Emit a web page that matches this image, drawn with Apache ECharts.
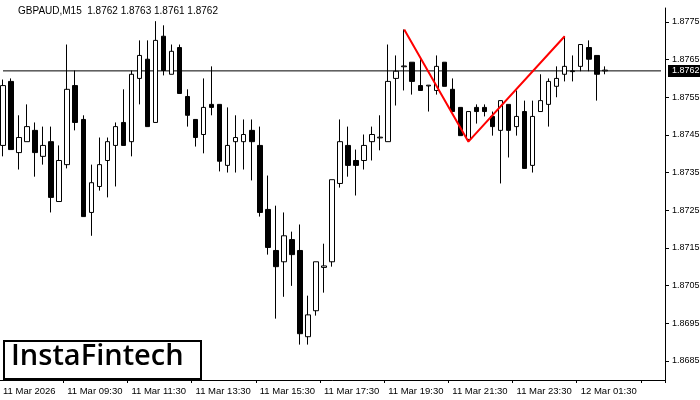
<!DOCTYPE html>
<html><head><meta charset="utf-8">
<script src="https://cdn.jsdelivr.net/npm/echarts@6/dist/echarts.min.js"></script>
<style>html,body{margin:0;padding:0;background:#fff}#c{width:700px;height:400px}</style>
</head><body><div id="c"></div>
<script>
// [open, close, low, high]
const ohlc = [
[1.87422,1.87581,1.87393,1.87597],[1.87592,1.87411,1.87411,1.87600],[1.87403,1.87443,1.87358,1.87502],
[1.87432,1.87472,1.87432,1.87531],[1.87462,1.87403,1.87339,1.87483],[1.87393,1.87422,1.87371,1.87472],
[1.87432,1.87284,1.87244,1.87472],[1.87273,1.87382,1.87273,1.87422],[1.87371,1.87571,1.87361,1.87690],
[1.87581,1.87483,1.87462,1.87621],[1.87491,1.87233,1.87233,1.87502],[1.87244,1.87323,1.87182,1.87371],
[1.87313,1.87371,1.87302,1.87443],[1.87382,1.87432,1.87284,1.87443],[1.87422,1.87472,1.87313,1.87483],
[1.87483,1.87422,1.87422,1.87571],[1.87432,1.87611,1.87393,1.87621],[1.87600,1.87661,1.87531,1.87701],
[1.87651,1.87472,1.87472,1.87701],[1.87483,1.87701,1.87483,1.87752],[1.87712,1.87621,1.87608,1.87741],
[1.87611,1.87672,1.87611,1.87690],[1.87682,1.87560,1.87560,1.87690],[1.87552,1.87502,1.87472,1.87571],
[1.87491,1.87443,1.87419,1.87491],[1.87451,1.87523,1.87401,1.87600],[1.87531,1.87523,1.87502,1.87632],
[1.87531,1.87380,1.87353,1.87531],[1.87369,1.87422,1.87350,1.87523],[1.87432,1.87443,1.87350,1.87502],
[1.87432,1.87451,1.87358,1.87491],[1.87462,1.87432,1.87329,1.87491],[1.87422,1.87244,1.87233,1.87472],
[1.87252,1.87151,1.87132,1.87342],[1.87143,1.87100,1.86962,1.87262],[1.87113,1.87182,1.87020,1.87244],
[1.87172,1.87132,1.87049,1.87193],[1.87143,1.86922,1.86893,1.87212],[1.86914,1.86972,1.86893,1.87023],
[1.86983,1.87113,1.86970,1.87113],[1.87098,1.87102,1.87031,1.87161],[1.87113,1.87331,1.87100,1.87331],
[1.87321,1.87432,1.87310,1.87491],[1.87422,1.87369,1.87339,1.87472],[1.87382,1.87369,1.87289,1.87411],
[1.87382,1.87422,1.87358,1.87451],[1.87432,1.87451,1.87382,1.87472],[1.87442,1.87444,1.87409,1.87502],
[1.87432,1.87592,1.87432,1.87690],[1.87600,1.87619,1.87528,1.87661],[1.87631,1.87633,1.87568,1.87730],
[1.87643,1.87592,1.87557,1.87643],[1.87581,1.87568,1.87568,1.87651],[1.87580,1.87582,1.87512,1.87582],
[1.87568,1.87632,1.87557,1.87661],[1.87643,1.87579,1.87579,1.87643],[1.87571,1.87512,1.87512,1.87600],
[1.87523,1.87448,1.87448,1.87523],[1.87438,1.87512,1.87432,1.87512],[1.87523,1.87512,1.87480,1.87531],
[1.87523,1.87512,1.87499,1.87531],[1.87499,1.87472,1.87448,1.87512],[1.87462,1.87541,1.87321,1.87541],
[1.87531,1.87462,1.87390,1.87531],[1.87472,1.87499,1.87448,1.87568],[1.87512,1.87361,1.87361,1.87541],
[1.87369,1.87499,1.87350,1.87541],[1.87512,1.87541,1.87512,1.87611],[1.87531,1.87592,1.87472,1.87600],
[1.87579,1.87600,1.87550,1.87632],[1.87611,1.87632,1.87592,1.87712],[1.87618,1.87620,1.87592,1.87661],
[1.87632,1.87690,1.87619,1.87690],[1.87682,1.87651,1.87619,1.87701],[1.87661,1.87611,1.87541,1.87661],
[1.87620,1.87622,1.87611,1.87632]
];
const totalSlots = 83;
const timeLabels = {0:'11 Mar 2026',8:'11 Mar 09:30',16:'11 Mar 11:30',24:'11 Mar 13:30',32:'11 Mar 15:30',
  40:'11 Mar 17:30',48:'11 Mar 19:30',56:'11 Mar 21:30',64:'11 Mar 23:30',72:'12 Mar 01:30'};
const yTicks = [1.8685,1.8695,1.8705,1.8715,1.8725,1.8735,1.8745,1.8755,1.8765,1.8775];
const patternPts = [[50,1.87730],[58,1.87432],[70,1.87712]];
const lastPrice = 1.8762;
const titleText = 'GBPAUD,M15  1.8762 1.8763 1.8761 1.8762';

const cats = Array.from({length: totalSlots}, (_, i) => String(i));
const font = 'Liberation Sans';
const yMin = 1.86799, yMax = 1.87787;
const chart = echarts.init(document.getElementById('c'));
chart.setOption({
  animation: false,
  backgroundColor: '#fff',
  grid: {left: -1, width: 666, top: 8, bottom: 20, containLabel: false, outerBoundsMode: 'none'},
  xAxis: {type: 'category', data: cats, boundaryGap: true,
    axisLine: {lineStyle: {color: '#000'}},
    axisTick: {show: true, length: 3, lineStyle: {color: '#000'}, interval: 7},
    axisLabel: {interval: 7, formatter: (v) => timeLabels[+v] || '',
      hideOverlap: false, align: 'left', color: '#000', fontSize: 9.5, fontFamily: font, margin: 6},
    splitLine: {show: false}},
  yAxis: [
    {type: 'value', position: 'right', min: yMin, max: yMax, scale: true,
      axisLine: {show: true, lineStyle: {color: '#000'}},
      axisTick: {show: true, length: 4, customValues: yTicks, lineStyle: {color: '#000'}},
      axisLabel: {customValues: yTicks, formatter: (v) => v.toFixed(4), color: '#000', fontSize: 9, fontFamily: font, margin: 7},
      splitLine: {show: false}},
    {type: 'value', position: 'right', min: yMin, max: yMax, scale: true,
      axisLine: {show: false}, axisTick: {show: false}, splitLine: {show: false},
      axisLabel: {customValues: [lastPrice], formatter: (v) => v.toFixed(4), color: '#fff', backgroundColor: '#000',
        padding: [2, 3, 1, 4], fontSize: 9, fontFamily: font, margin: 3}}
  ],
  series: [
    {type: 'candlestick', data: ohlc, barWidth: 5,
      itemStyle: {color: '#fff', color0: '#000', borderColor: '#000', borderColor0: '#000', borderWidth: 1}},
    {type: 'line', data: patternPts, symbol: 'none', lineStyle: {color: '#ff0000', width: 2}, z: 5},
    {type: 'line', data: [[0, lastPrice], [totalSlots - 1, lastPrice]], symbol: 'none',
      lineStyle: {color: '#000', width: 1}, z: 1}
  ],
  graphic: [
    {type: 'text', left: 18, top: 6, style: {text: titleText, fontSize: 10, fontFamily: font, fill: '#000'}},
    {type: 'rect', left: 3, top: 340, shape: {width: 197, height: 38}, style: {fill: '#fff', stroke: '#000', lineWidth: 2}, z: 10},
    {type: 'text', left: 11, top: 342, style: {text: 'InstaFintech', fontSize: 29, fontWeight: 600, fontFamily: 'Open Sans', fill: '#000'}, z: 11}
  ]
});
</script></body></html>
